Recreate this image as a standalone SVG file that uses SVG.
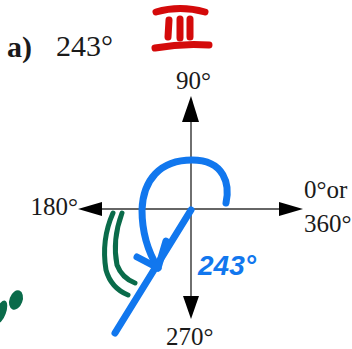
<svg xmlns="http://www.w3.org/2000/svg" width="352" height="349" viewBox="0 0 352 349">
<style>
.t{font-family:"Liberation Serif","Times New Roman",serif;fill:#1a1a1a;font-size:25px}
.h{font-size:30px}
.ax{stroke:#333;stroke-width:1.4;fill:none}
.ah{fill:#000}
.blue{stroke:#1177ee;stroke-width:7;fill:none;stroke-linecap:round;stroke-linejoin:round}
.green{stroke:#0a6b4a;stroke-width:5;fill:none;stroke-linecap:round}
.red{stroke:#d40a0a;stroke-width:7;fill:none;stroke-linecap:round}
</style>
<rect width="352" height="349" fill="#fff"/>
<g id="title">
<text class="t h" x="7" y="57" font-weight="bold">a)</text>
<text class="t h" x="56" y="56">243°</text>
</g>
<g id="quadrant-mark">
<path class="red" d="M156,12 Q180,5 205,12"/>
<path class="red" d="M169,20 L168,37 M180,19 L180,38 M190,19 L190,37"/>
<path class="red" d="M155,48 Q182,43 209,45"/>
</g>
<g id="axes">
<line class="ax" x1="191" y1="118" x2="191" y2="300"/>
<line class="ax" x1="100" y1="209" x2="280" y2="209"/>
<polygon class="ah" points="191,96 182,122 199,122"/>
<polygon class="ah" points="191,319 183,296 199,296"/>
<polygon class="ah" points="78,209 102,202 102,216"/>
<polygon class="ah" points="303,209 279,202 279,216"/>
</g>
<g id="labels">
<text class="t" x="176" y="89">90°</text>
<text class="t" x="78" y="215" text-anchor="end">180°</text>
<text class="t" x="304" y="198">0°or</text>
<text class="t" x="304" y="232">360°</text>
<text class="t" x="166" y="345">270°</text>
</g>
<g id="green-marks">
<path class="green" d="M113,213 Q101,240 106,270 Q111,288 128,295"/>
<path class="green" d="M122,213 Q112,240 117,265 Q122,278 135,283"/>
<ellipse cx="16" cy="300" rx="6.5" ry="10" transform="rotate(20 16 300)" fill="#0a6b4a"/>
<ellipse cx="1" cy="312" rx="5" ry="12" transform="rotate(20 1 312)" fill="#0a6b4a"/>
</g>
<g id="blue-angle">
<path class="blue" d="M191,210 L115,333"/>
<path class="blue" d="M226,203 C230,185 225,160 192,160 C160,160 143,180 142,210 C142,235 150,255 158,268"/>
<path class="blue" d="M137,257 L158,268 L166,241"/>
<text x="198" y="275" font-family="'Liberation Sans',Arial,sans-serif" font-weight="bold" font-style="italic" font-size="28" fill="#1177ee">243°</text>
</g>
</svg>
